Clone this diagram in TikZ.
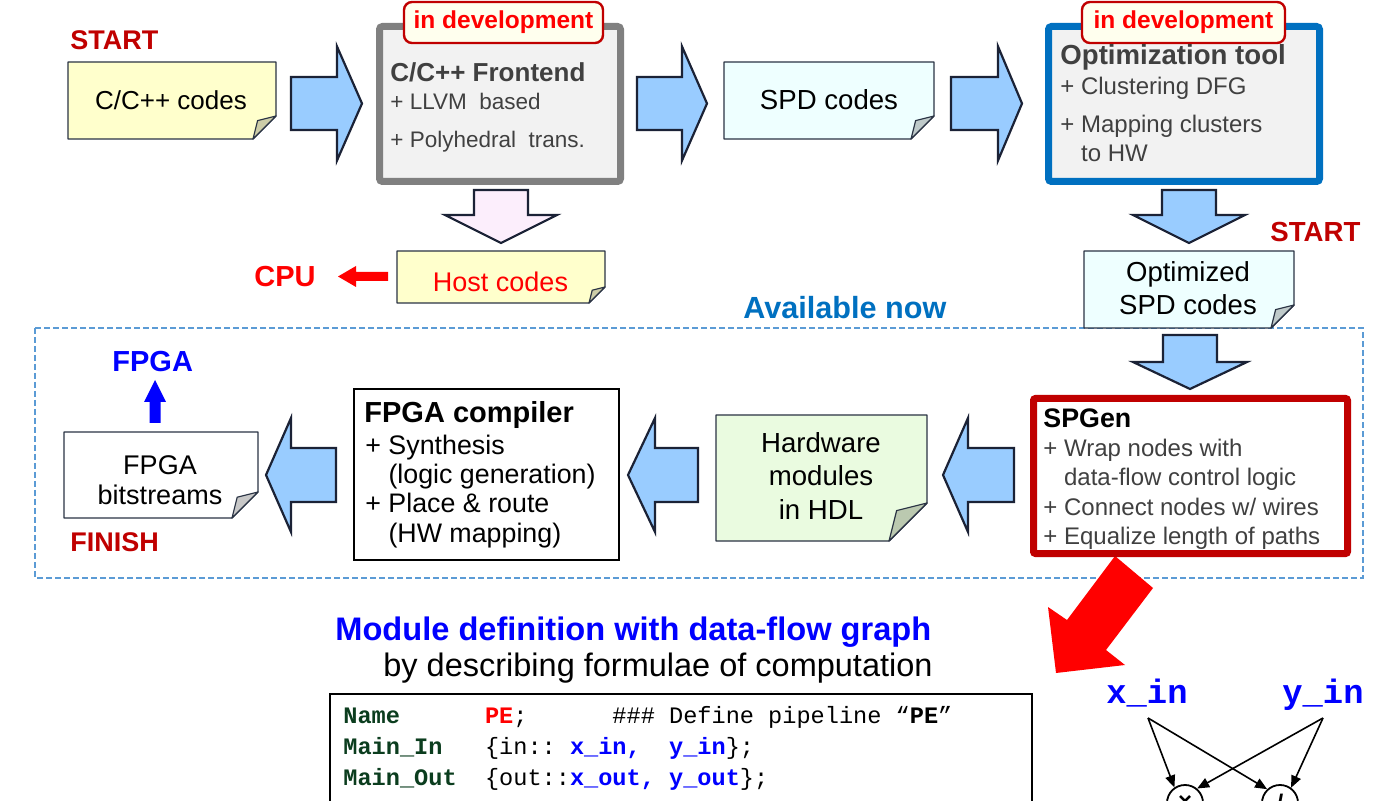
\documentclass[tikz,border=0pt]{standalone}
\usepackage{fontspec}
\setmainfont{Liberation Sans}
\setmonofont{Liberation Mono}
\usetikzlibrary{arrows.meta}
\definecolor{dred}{HTML}{C00000}
\definecolor{txtgray}{HTML}{404040}
\definecolor{avblue}{HTML}{0070C0}
\definecolor{dashblue}{HTML}{5B9BD5}
\definecolor{arrfill}{HTML}{99CCFF}
\definecolor{arrdraw}{HTML}{1B2236}
\definecolor{pinkfill}{HTML}{FCEEFC}
\definecolor{noteline}{HTML}{2A3344}
\definecolor{yelfill}{HTML}{FFFFCC}
\definecolor{yelfold}{HTML}{CDCDA8}
\definecolor{cyanfill}{HTML}{EEFFFF}
\definecolor{cyanfold}{HTML}{BFCACA}
\definecolor{grnfill}{HTML}{EAFBE0}
\definecolor{grnfold}{HTML}{BBC9B0}
\definecolor{whtfold}{HTML}{C8C8C8}
\definecolor{boxgray}{HTML}{F2F2F2}
\definecolor{bordgray}{HTML}{808080}
\definecolor{tagfill}{HTML}{FFFFEE}
\definecolor{kwgreen}{HTML}{0B3D1E}
\definecolor{codeblue}{HTML}{0000FF}
\newcommand\fsz[1]{\fontsize{#1}{#1}\selectfont}
\newcommand\harrow[7]{\path[#1] (#2,#5-#6) -- (#3,#5-#6) -- (#3,#5-#7) -- (#4,#5) -- (#3,#5+#7) -- (#3,#5+#6) -- (#2,#5+#6) -- cycle;}
\newcommand\varrow[7]{\path[#1] (#5-#6,#2) -- (#5-#6,#3) -- (#5-#7,#3) -- (#5,#4) -- (#5+#7,#3) -- (#5+#6,#3) -- (#5+#6,#2) -- cycle;}
\newcommand\notepage[7]{%
  \path[fill=#1, draw=noteline, line width=0.7pt, line join=round] (#3,#4) -- (#5,#4) -- (#5,#6-#7) -- (#5-#7,#6) -- (#3,#6) -- cycle;
  \path[fill=#2, draw=noteline, line width=0.6pt, line join=round] (#5,#6-#7) -- (#5-#7,#6) -- (#5-0.8*#7,#6-0.8*#7) -- cycle;}
\tikzset{
  lbl/.style={inner sep=0pt, anchor=base west},
  lblc/.style={inner sep=0pt, anchor=base},
  barrow/.style={fill=arrfill, draw=arrdraw, line width=1.1pt, line join=miter},
  parrow/.style={fill=pinkfill, draw=arrdraw, line width=1.1pt, line join=miter},
  bigbox/.style={line width=3.5pt, inner sep=0pt},
  devtag/.style={draw=dred, fill=tagfill, line width=1.2pt, rounded corners=4pt, minimum width=#1, minimum height=20.5pt, inner sep=0pt, text=red, font=\bfseries\fsz{12.25}},
  conn/.style={line width=0.8pt, -{Triangle[length=6pt,width=5pt]}},
}
\begin{document}
\begin{tikzpicture}[x=0.5pt,y=-0.5pt]
\useasboundingbox (0,0) rectangle (1375,801);
\clip (0,0) rectangle (1375,801);
\fill[white] (0,0) rectangle (1375,801);

% dashed region
\draw[dashblue, line width=1.2pt, dash pattern=on 3pt off 1.5pt] (35,328) rectangle (1363,578);

% ---- top row ----
\node[lbl, text=dred, font=\bfseries\fsz{13.5}] (start1) at (70,50) {START};
\notepage{yelfill}{yelfold}{68}{62}{276}{139}{23}
\node[lblc, font=\fsz{13}] (cc) at (171,110) {C/C++ codes};
\harrow{barrow}{291}{337}{362}{103.5}{26.5}{57}

\node[bigbox, draw=bordgray, fill=boxgray, rounded corners=1.5pt, minimum width=120.5pt, minimum height=77.5pt] (fe) at (500,104) {};
\node[devtag=99.5pt] (tag1) at (503.5,22.5) {in development};
\node[lbl, text=txtgray, font=\bfseries\fsz{13}] (fe1) at (390,81.7) {C/C++ Frontend};
\node[lbl, text=txtgray, font=\fsz{11.25}] (fe2) at (390,110) {+ LLVM\ \ based};
\node[lbl, text=txtgray, font=\fsz{11.25}] (fe3) at (390,148) {+ Polyhedral\ \ trans.};

\harrow{barrow}{637}{682}{707}{103.5}{26.5}{57}
\notepage{cyanfill}{cyanfold}{724}{62}{934}{139}{23}
\node[lblc, font=\fsz{13.8}] (spd) at (829,110) {SPD codes};
\harrow{barrow}{951}{998}{1022}{103.5}{26.5}{57}

\node[bigbox, draw=avblue, fill=boxgray, rounded corners=1.5pt, minimum width=135.5pt, minimum height=77.5pt] (opt) at (1184,104) {};
\node[devtag=101.5pt] (tag2) at (1183.5,22.5) {in development};
\node[lbl, text=txtgray, font=\bfseries\fsz{13.8}] (opt1) at (1060,65) {Optimization tool};
\node[lbl, text=txtgray, font=\fsz{12}] (opt2) at (1060,95) {+ Clustering DFG};
\node[lbl, text=txtgray, font=\fsz{12}] (opt3) at (1060,133) {+ Mapping clusters};
\node[lbl, text=txtgray, font=\fsz{12}] (opt4) at (1060,162) {\phantom{+ }to HW};

% ---- second row ----
\varrow{parrow}{190}{215}{243}{501}{27}{56}
\notepage{yelfill}{yelfold}{397}{251}{605}{303}{16}
\node[lblc, text=red, font=\fsz{13.5}] (host) at (500.5,292) {Host codes};
\harrow{fill=red}{388}{356}{338}{276.5}{4.5}{10.5}
\node[lbl, text=red, font=\bfseries\fsz{14.5}] (cpu) at (254,287) {CPU};

\varrow{barrow}{190}{215}{243}{1189}{27}{56}
\node[lbl, text=dred, font=\bfseries\fsz{13.8}] (start2) at (1270,242) {START};
\notepage{cyanfill}{cyanfold}{1084}{251}{1294}{328}{23}
\node[lblc, font=\fsz{13.75}] (ospd1) at (1188,282) {Optimized};
\node[lblc, font=\fsz{13.75}] (ospd2) at (1188,315) {SPD codes};
\node[lbl, text=avblue, font=\bfseries\fsz{15.3}] (avail) at (743,319) {Available now};

% ---- available-now row ----
\varrow{barrow}{335}{362}{389}{1190}{27}{57}
\fill[red] (1115,556) -- (1153,588) -- (1106,650) -- (1125,665) -- (1056,673) -- (1048,607) -- (1067,620) -- cycle;
\node[bigbox, draw=dred, fill=white, rounded corners=1pt, minimum width=157pt, minimum height=77.5pt] (spgen) at (1190.5,476) {};
\node[lbl, font=\bfseries\fsz{13.4}] (sp1) at (1043,428) {SPGen};
\node[lbl, text=txtgray, font=\fsz{12}] (sp2) at (1043,457) {+ Wrap nodes with};
\node[lbl, text=txtgray, font=\fsz{12}] (sp3) at (1043,486) {\phantom{+ }data-flow control logic};
\node[lbl, text=txtgray, font=\fsz{12}] (sp4) at (1043,516) {+ Connect nodes w/ wires};
\node[lbl, text=txtgray, font=\fsz{12}] (sp5) at (1043,545) {+ Equalize length of paths};

\harrow{barrow}{1014}{968}{943}{475}{27}{57}
\notepage{grnfill}{grnfold}{716}{415}{927}{541}{38}
\node[lblc, font=\fsz{13.8}] (hw1) at (821,453) {Hardware};
\node[lblc, font=\fsz{13.8}] (hw2) at (821,486) {modules};
\node[lblc, font=\fsz{13.8}] (hw3) at (821,519) {in HDL};

\harrow{barrow}{698}{655}{628}{475}{27}{57}
\node[draw=black, fill=white, line width=1.3pt, inner sep=0pt, minimum width=132.5pt, minimum height=85.5pt] (fc) at (486.5,474.5) {};
\node[lbl, font=\bfseries\fsz{14.5}] (fc1) at (364,423) {FPGA compiler};
\node[lbl, font=\fsz{13.4}] (fc2) at (365,455) {+ Synthesis};
\node[lbl, font=\fsz{13.4}] (fc3) at (365,484) {\phantom{+ }(logic generation)};
\node[lbl, font=\fsz{13.4}] (fc4) at (365,513) {+ Place \& route};
\node[lbl, font=\fsz{13.4}] (fc5) at (365,542) {\phantom{+ }(HW mapping)};

\harrow{barrow}{336}{291}{266}{475}{27}{57}
\notepage{white}{whtfold}{64}{432}{258}{518}{26}
\node[lblc, font=\fsz{13.5}] (bs1) at (160,475) {FPGA};
\node[lblc, font=\fsz{13.5}] (bs2) at (160,505) {bitstreams};
\varrow{fill=blue}{423}{402}{380}{155}{5.5}{11}
\node[lbl, text=blue, font=\bfseries\fsz{14.5}] (fpga) at (112,372) {FPGA};
\node[lbl, text=dred, font=\bfseries\fsz{13.5}] (finish) at (70,552) {FINISH};

% ---- bottom ----
\node[lbl, text=blue, font=\bfseries\fsz{16.3}] (mdef) at (335,640) {Module definition with data-flow graph};
\node[lbl, font=\fsz{16.25}] (mdesc) at (383,676) {by describing formulae of computation};
\draw[line width=1.2pt] (330,694) rectangle (1032,830);
\node[lbl, font=\ttfamily\fsz{11.8}] (code1) at (343,723) {{\bfseries\color{kwgreen}Name}~~~~~~{\bfseries\color{red}PE};~~~~~~\#\#\# Define pipeline “{\bfseries PE}”};
\node[lbl, font=\ttfamily\fsz{11.8}] (code2) at (343,754) {{\bfseries\color{kwgreen}Main\_In}~~~\{in::~{\bfseries\color{codeblue}x\_in,}~~{\bfseries\color{codeblue}y\_in}\};};
\node[lbl, font=\ttfamily\fsz{11.8}] (code3) at (343,785) {{\bfseries\color{kwgreen}Main\_Out}~~\{out::{\bfseries\color{codeblue}x\_out,}~{\bfseries\color{codeblue}y\_out}\};};

% graph
\node[lbl, text=codeblue, font=\ttfamily\bfseries\fsz{16.9}] (xin) at (1106,703) {x\_in};
\node[lbl, text=codeblue, font=\ttfamily\bfseries\fsz{16.9}] (yin) at (1282,703) {y\_in};
\coordinate (xb) at (1148,718);
\coordinate (yb) at (1323,718);
\node[circle, draw, line width=0.9pt, minimum size=18pt, inner sep=0pt, font=\bfseries\fsz{12}] (mul) at (1185,803) {×};
\node[circle, draw, line width=0.9pt, minimum size=18pt, inner sep=0pt, font=\bfseries\fsz{12}] (div) at (1280,803) {/};
\draw[conn] (xb) -- (mul.124);
\draw[conn] (xb) -- (div.133);
\draw[conn] (yb) -- (mul.50);
\draw[conn] (yb) -- (div.54);
\end{tikzpicture}
\end{document}
